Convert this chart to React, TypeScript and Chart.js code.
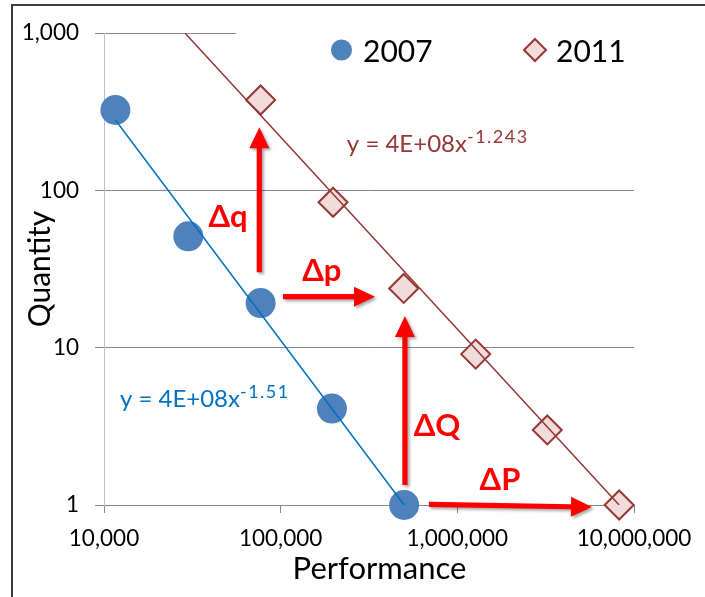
import React, { useEffect, useRef } from 'react';
import { Chart, registerables } from 'chart.js';

Chart.register(...registerables);

// ---- data ----
const perf2007 = [11600, 30000, 77000, 195000, 500000];
const qty2007 = [324, 51, 19.2, 4.1, 1];
const perf2011 = [77000, 198000, 497000, 1270000, 3230000, 8240000];
const qty2011 = [375, 84, 23.8, 9.1, 3.0, 1];
const trend2007Perf = [11600, 500000];
const trend2007Qty = [280, 1];
const trend2011Perf = [28700, 8240000];
const trend2011Qty = [1000, 1];
const xTicks = [10000, 100000, 1000000, 10000000];
const yTicks = [1, 10, 100, 1000];
const seriesNames = ['2007', '2011'];
const xTitle = 'Performance';
const yTitle = 'Quantity';

// annotation arrows (data coordinates)
const arrowNames = ['Δq', 'Δp', 'ΔQ', 'ΔP'];
const arrowFromPerf = [75700, 103000, 505000, 690000];
const arrowFromQty = [30.2, 21.1, 1.34, 1.01];
const arrowToPerf = [75700, 342000, 505000, 5780000];
const arrowToQty = [252, 21.1, 15.9, 0.97];
const labelPerf = [50400, 171000, 767000, 1742000];
const labelQty = [67.6, 30.7, 3.17, 1.44];

// trendline equations
const eqMain = ['y = 4E+08x', 'y = 4E+08x'];
const eqExp = ['-1.51', '-1.243'];
const eqPerf = [12300, 237000];
const eqQty = [4.19, 175];

const FONT = 'Lato, "Open Sans", sans-serif';
const BLUE = '#4F81BD';
const BLUE_LINE = '#0070C0';
const BROWN = '#953735';
const PINK = '#F2DCDB';
const RED = '#FF0000';

const overlayPlugin = {
  id: 'overlay',
  beforeDatasetsDraw(chart: any) {
    const { ctx, chartArea } = chart;
    // legend background (white box hides the top gridline)
    ctx.save();
    ctx.fillStyle = '#ffffff';
    ctx.fillRect(chartArea.left + 132, chartArea.top - 12, chartArea.right - chartArea.left - 128, 50);
    ctx.restore();
  },
  afterDatasetsDraw(chart: any) {
    const { ctx, chartArea } = chart;
    const xs = chart.scales.x;
    const ys = chart.scales.y;
    ctx.save();

    // legend
    const ly = chartArea.top + 29;
    ctx.font = `30px ${FONT}`;
    ctx.textBaseline = 'alphabetic';
    ctx.textAlign = 'left';
    ctx.fillStyle = BLUE;
    ctx.beginPath();
    ctx.arc(chartArea.left + 237.5, chartArea.top + 17, 10.5, 0, Math.PI * 2);
    ctx.fill();
    ctx.fillStyle = '#000';
    ctx.fillText(seriesNames[0], chartArea.left + 259, ly);
    const dx0 = chartArea.left + 431;
    const dy0 = chartArea.top + 17;
    ctx.beginPath();
    ctx.moveTo(dx0, dy0 - 11);
    ctx.lineTo(dx0 + 11, dy0);
    ctx.lineTo(dx0, dy0 + 11);
    ctx.lineTo(dx0 - 11, dy0);
    ctx.closePath();
    ctx.fillStyle = PINK;
    ctx.fill();
    ctx.strokeStyle = BROWN;
    ctx.lineWidth = 2;
    ctx.stroke();
    ctx.fillStyle = '#000';
    ctx.fillText(seriesNames[1], chartArea.left + 452, ly);

    // arrows
    for (let i = 0; i < arrowNames.length; i++) {
      const x1 = xs.getPixelForValue(arrowFromPerf[i]);
      const y1 = ys.getPixelForValue(arrowFromQty[i]);
      const x2 = xs.getPixelForValue(arrowToPerf[i]);
      const y2 = ys.getPixelForValue(arrowToQty[i]);
      const len = Math.hypot(x2 - x1, y2 - y1);
      const ux = (x2 - x1) / len;
      const uy = (y2 - y1) / len;
      const nx = -uy;
      const ny = ux;
      const headLen = 21;
      const headW = 10;
      const sw = 2.6;
      const bx = x2 - ux * headLen;
      const by = y2 - uy * headLen;
      ctx.save();
      ctx.shadowColor = 'rgba(0,0,0,0.35)';
      ctx.shadowBlur = 3;
      ctx.shadowOffsetX = 2;
      ctx.shadowOffsetY = 2;
      ctx.fillStyle = RED;
      ctx.beginPath();
      ctx.moveTo(x1 + nx * sw, y1 + ny * sw);
      ctx.lineTo(bx + nx * sw, by + ny * sw);
      ctx.lineTo(bx + nx * headW, by + ny * headW);
      ctx.lineTo(x2, y2);
      ctx.lineTo(bx - nx * headW, by - ny * headW);
      ctx.lineTo(bx - nx * sw, by - ny * sw);
      ctx.lineTo(x1 - nx * sw, y1 - ny * sw);
      ctx.closePath();
      ctx.fill();
      ctx.restore();
    }

    // arrow labels
    ctx.font = `bold 31px ${FONT}`;
    ctx.textAlign = 'center';
    ctx.textBaseline = 'middle';
    ctx.fillStyle = RED;
    for (let i = 0; i < arrowNames.length; i++) {
      ctx.fillText(arrowNames[i], xs.getPixelForValue(labelPerf[i]), ys.getPixelForValue(labelQty[i]));
    }

    // equations
    const eqColors = [BLUE_LINE, BROWN];
    ctx.textAlign = 'left';
    ctx.textBaseline = 'alphabetic';
    for (let i = 0; i < eqMain.length; i++) {
      const px = xs.getPixelForValue(eqPerf[i]);
      const py = ys.getPixelForValue(eqQty[i]);
      ctx.fillStyle = eqColors[i];
      ctx.font = `24px ${FONT}`;
      ctx.fillText(eqMain[i], px, py);
      const w = ctx.measureText(eqMain[i]).width;
      ctx.font = `18px ${FONT}`;
      (ctx as any).letterSpacing = '1.5px';
      ctx.fillText(eqExp[i], px + w, py - 9);
      (ctx as any).letterSpacing = '0px';
    }

    // x axis title
    ctx.font = `31px ${FONT}`;
    ctx.fillStyle = '#000';
    ctx.textAlign = 'center';
    ctx.textBaseline = 'alphabetic';
    ctx.fillText(xTitle, (chartArea.left + chartArea.right) / 2 + 10.5, chartArea.bottom + 74);
    ctx.restore();
  },
};

export default function App() {
  const ref = useRef<HTMLCanvasElement | null>(null);

  useEffect(() => {
    if (!ref.current) return;
    const chart = new Chart(ref.current, {
      type: 'scatter',
      data: {
        datasets: [
          {
            label: 'trend 2007',
            data: trend2007Perf.map((p, i) => ({ x: p, y: trend2007Qty[i] })),
            showLine: true,
            borderColor: BLUE_LINE,
            borderWidth: 1.5,
            pointRadius: 0,
            order: 0,
          },
          {
            label: 'trend 2011',
            data: trend2011Perf.map((p, i) => ({ x: p, y: trend2011Qty[i] })),
            showLine: true,
            borderColor: BROWN,
            borderWidth: 1.5,
            pointRadius: 0,
            order: 0,
          },
          {
            label: seriesNames[0],
            data: perf2007.map((p, i) => ({ x: p, y: qty2007[i] })),
            pointStyle: 'circle',
            pointRadius: 15,
            backgroundColor: BLUE,
            borderWidth: 0,
            clip: false,
            order: 1,
          },
          {
            label: seriesNames[1],
            data: perf2011.map((p, i) => ({ x: p, y: qty2011[i] })),
            pointStyle: 'rectRot',
            pointRadius: 14.5,
            backgroundColor: PINK,
            borderColor: BROWN,
            borderWidth: 2,
            clip: false,
            order: 1,
          },
        ],
      } as any,
      options: {
        animation: false,
        responsive: false,
        events: [],
        layout: { padding: { left: 0, top: 33, right: 71, bottom: 0 } },
        plugins: {
          legend: { display: false },
          tooltip: { enabled: false },
        },
        scales: {
          x: {
            type: 'logarithmic',
            min: 10000,
            max: 10000000,
            afterBuildTicks: (s: any) => {
              s.ticks = xTicks.map((v) => ({ value: v }));
            },
            afterFit: (s: any) => {
              s.height = 92;
            },
            ticks: {
              font: { family: FONT, size: 22.5 },
              color: '#000',
              padding: 12,
              maxRotation: 0,
              autoSkip: false,
              callback: (v: any) => Number(v).toLocaleString('en-US'),
            },
            grid: { drawOnChartArea: false, drawTicks: true, tickLength: 8, color: '#878787' },
            border: { color: '#878787' },
            title: { display: false },
          },
          y: {
            type: 'logarithmic',
            min: 1,
            max: 1000,
            afterBuildTicks: (s: any) => {
              s.ticks = yTicks.map((v) => ({ value: v }));
            },
            afterFit: (s: any) => {
              s.width = 104;
            },
            ticks: {
              font: { family: FONT, size: 22.5 },
              color: '#000',
              padding: 16,
              autoSkip: false,
              callback: (v: any) => Number(v).toLocaleString('en-US'),
            },
            grid: { drawTicks: true, tickLength: 9, color: '#878787' },
            border: { color: '#BFBFBF' },
            title: {
              display: true,
              text: yTitle,
              font: { family: FONT, size: 30 },
              color: '#000',
              padding: { top: 22, bottom: 0 },
            },
          },
        },
      } as any,
      plugins: [overlayPlugin],
    });
    return () => chart.destroy();
  }, []);

  return (
    <div
      style={{
        position: 'fixed',
        left: 0,
        top: 0,
        width: 705,
        height: 597,
        background: '#ffffff',
        overflow: 'hidden',
      }}
    >
      <div
        style={{
          position: 'absolute',
          left: 11,
          top: 4,
          width: 800,
          height: 700,
          borderLeft: '2px solid #3c3c3c',
          borderTop: '2px solid #3c3c3c',
        }}
      />
      <canvas
        ref={ref}
        width={705}
        height={597}
        style={{ position: 'absolute', left: 0, top: 0, width: 705, height: 597 }}
      />
    </div>
  );
}
